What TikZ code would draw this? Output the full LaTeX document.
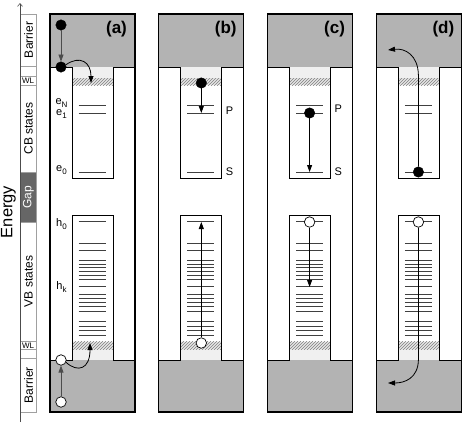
\documentclass[tikz,border=0pt]{standalone}
\usepackage{fontspec}
\setmainfont{Liberation Sans}
\usetikzlibrary{patterns,arrows.meta}
\definecolor{barrierc}{HTML}{B3B3B3}
\definecolor{gapc}{HTML}{666666}
\definecolor{litec}{HTML}{F0F0F0}
\definecolor{colc}{HTML}{A0A0A0}
\definecolor{hatchbg}{HTML}{E6E6E6}
\definecolor{hatchc}{HTML}{808080}
\definecolor{levelc}{HTML}{404040}
\newcommand\qdframe[1]{%
 \begin{scope}[shift={(#1,0)}]
  \fill[barrierc] (0,14) rectangle (85,67);
  \fill[barrierc] (0,360) rectangle (85,412);
  \fill[litec] (22,67) rectangle (63,78);
  \fill[litec] (22,349) rectangle (63,360);
  \fill[hatchbg] (22,78) rectangle (63,85);
  \fill[pattern=north east lines, pattern color=hatchc] (22,78) rectangle (63,85);
  \fill[hatchbg] (22,341.5) rectangle (63,349);
  \fill[pattern=north east lines, pattern color=hatchc] (22,341.5) rectangle (63,349);
  \draw[wall] (0,67) -- (22,67) -- (22,178) -- (63,178) -- (63,67) -- (85,67);
  \draw[wall] (0,360) -- (22,360) -- (22,215) -- (63,215) -- (63,360) -- (85,360);
  \foreach \y in {105,113,172,221.7,243.3,250.7,260,264,267.3,271,275,279,286.7,294.3,298.3,302.7,306.7,311.7,321,326,330.7,335}
    \draw[level] (28.5,\y) -- (55.5,\y);
  \draw[frame] (0,14) rectangle (85,412);
 \end{scope}}
\newcommand\sub[2]{#1{\fontsize{8}{8}\selectfont\raisebox{-2.5pt}{#2}}}
\begin{document}
\begin{tikzpicture}[x=1pt,y=-1pt,
  wall/.style={line width=0.9pt},
  frame/.style={line width=1.3pt},
  level/.style={line width=0.8pt, levelc},
  colbox/.style={draw=colc, line width=0.6pt},
  coltext/.style={rotate=90, font=\fontsize{12}{12}\selectfont, inner sep=0},
  wltext/.style={font=\fontsize{8}{8}\selectfont, inner sep=0},
  plabel/.style={font=\fontsize{17}{17}\selectfont\bfseries, inner sep=0},
  lvl/.style={font=\fontsize{11}{11}\selectfont, inner sep=0},
  elec/.style={circle, fill=black, draw=black, minimum size=10.5pt, inner sep=0},
  hole/.style={circle, fill=white, draw=black, line width=0.7pt, minimum size=10.5pt, inner sep=0},
  arr/.style={line width=0.8pt, -{Triangle[length=7pt,width=5pt]}},
  garr/.style={arr, draw=black!70}
]
\useasboundingbox (0,0) rectangle (463,423);

% ---- left energy column ----
\draw[colbox] (20,14) rectangle (36,66);
\draw[colbox] (20,66) rectangle (36,76);
\draw[colbox] (20,76) rectangle (36,85);
\draw[colbox] (20,85) rectangle (36,172);
\filldraw[fill=gapc, draw=colc, line width=0.6pt] (20,172) rectangle (36,222);
\draw[colbox] (20,222) rectangle (36,341.5);
\draw[colbox] (20,341.5) rectangle (36,349);
\draw[colbox] (20,349) rectangle (36,358);
\draw[colbox] (20,358) rectangle (36,412);
\node[coltext] (tbar) at (28.5,40) {Barrier};
\node[wltext] (twl1) at (28,80.7) {WL};
\node[coltext] (tcb) at (28.5,128.5) {CB states};
\node[coltext, text=white] (tgap) at (28.5,197) {Gap};
\node[coltext] (tvb) at (28.5,281.5) {VB states};
\node[wltext] (twl2) at (28,345.5) {WL};
\node[coltext] (bbar) at (28.5,385) {Barrier};
\coordinate (axb) at (20,422);
\coordinate (axt) at (20,3);
\draw[line width=0.6pt, draw=black!70, -{Straight Barb[length=3pt,width=5pt]}] (axb) -- (axt);
\node[rotate=90, font=\fontsize{16.5}{16.5}\selectfont, inner sep=0] (energy) at (8.5,212) {Energy};

% ---- panel frames ----
\qdframe{50}
\qdframe{158.8}
\qdframe{267.6}
\qdframe{376.4}

\node[plabel] (la) at (116.5,29) {(a)};
\node[plabel] (lb) at (225.8,29) {(b)};
\node[plabel] (lc) at (334.6,29) {(c)};
\node[plabel] (ld) at (443.4,29) {(d)};

% ---- panel (a) ----
\node[lvl] (eN) at (61.5,103) {\sub{e}{N}};
\node[lvl] (e1) at (61.5,114) {\sub{e}{1}};
\node[lvl] (e0) at (61.5,170) {\sub{e}{0}};
\node[lvl] (h0) at (61.5,224) {\sub{h}{0}};
\node[lvl] (hk) at (61.5,287) {\sub{h}{k}};
\node[elec] (ea1) at (61,25) {};
\node[elec] (ea2) at (61,67) {};
\draw[garr] (ea1) -- (ea2);
\coordinate (wla) at (91,83);
\draw[arr] (ea2.25) .. controls (80,55) and (91,62) .. (wla);
\node[hole] (ha1) at (61,402) {};
\node[hole] (ha2) at (61,360) {};
\draw[garr] (ha1) -- (ha2);
\coordinate (wlb) at (90,343);
\draw[arr] (ha2.-25) .. controls (78,373) and (90,369) .. (wlb);

% ---- panel (b) ----
\node[lvl] (pb) at (229.5,111) {P};
\node[lvl] (sb) at (229.5,172) {S};
\node[elec] (eb) at (201.3,83) {};
\coordinate (eb2) at (201.3,113);
\draw[arr] (eb) -- (eb2);
\node[hole] (hb) at (201.3,343) {};
\coordinate (hb2) at (201.3,222);
\draw[arr] (hb) -- (hb2);

% ---- panel (c) ----
\node[lvl] (pc) at (338.3,109) {P};
\node[lvl] (sc) at (338.3,172) {S};
\node[elec] (ec) at (309.6,113) {};
\coordinate (ec2) at (309.6,172);
\draw[arr] (ec) -- (ec2);
\node[hole] (hc) at (309.6,222) {};
\coordinate (hc2) at (309.6,287);
\draw[arr] (hc) -- (hc2);

% ---- panel (d) ----
\node[elec] (ed) at (418.4,172) {};
\coordinate (ed1) at (418.4,75);
\coordinate (ed2) at (388,50);
\draw[arr] (ed) -- (ed1) .. controls (418,55) and (405,48) .. (ed2);
\node[hole] (hd) at (418.4,222) {};
\coordinate (hd1) at (418.4,360);
\coordinate (hd2) at (388,383);
\draw[arr] (hd) -- (hd1) .. controls (418,378) and (405,383) .. (hd2);
\end{tikzpicture}
\end{document}
